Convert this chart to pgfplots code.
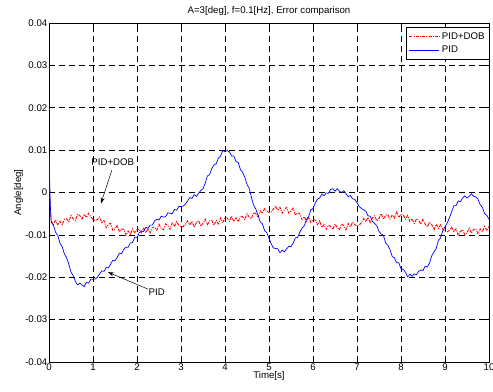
\documentclass[border=0pt]{standalone}
\usepackage{fontspec}
\setmainfont{Liberation Sans}
\usepackage{pgfplots}
\usepackage{pgfplotstable}
\usetikzlibrary{arrows.meta}
\pgfplotsset{compat=1.18}

\pgfplotstableread{
t y
0 84e-4
0.02 -20e-4
0.05 -67e-4
0.10 -76e-4
0.15 -64e-4
0.20 -77e-4
0.25 -68e-4
0.30 -76e-4
0.35 -63e-4
0.40 -62e-4
0.45 -69e-4
0.50 -54e-4
0.55 -62e-4
0.60 -66e-4
0.65 -51e-4
0.70 -54e-4
0.75 -64e-4
0.80 -51e-4
0.85 -59e-4
0.90 -49e-4
0.95 -58e-4
1.00 -63e-4
1.05 -66e-4
1.10 -64e-4
1.15 -58e-4
1.20 -71e-4
1.25 -66e-4
1.30 -83e-4
1.35 -75e-4
1.40 -73e-4
1.45 -89e-4
1.50 -86e-4
1.55 -78e-4
1.60 -93e-4
1.65 -86e-4
1.70 -87e-4
1.75 -101e-4
1.80 -91e-4
1.85 -99e-4
1.90 -86e-4
1.95 -96e-4
2.00 -87e-4
2.05 -87e-4
2.10 -95e-4
2.15 -83e-4
2.20 -95e-4
2.25 -86e-4
2.30 -95e-4
2.35 -82e-4
2.40 -82e-4
2.45 -89e-4
2.50 -75e-4
2.55 -84e-4
2.60 -88e-4
2.65 -74e-4
2.70 -78e-4
2.75 -87e-4
2.80 -72e-4
2.85 -80e-4
2.90 -69e-4
2.95 -77e-4
3.00 -81e-4
3.05 -80e-4
3.10 -75e-4
3.15 -67e-4
3.20 -76e-4
3.25 -68e-4
3.30 -82e-4
3.35 -71e-4
3.40 -66e-4
3.45 -79e-4
3.50 -73e-4
3.55 -63e-4
3.60 -76e-4
3.65 -67e-4
3.70 -66e-4
3.75 -77e-4
3.80 -66e-4
3.85 -74e-4
3.90 -60e-4
3.95 -70e-4
4.00 -60e-4
4.05 -60e-4
4.10 -68e-4
4.15 -56e-4
4.20 -69e-4
4.25 -60e-4
4.30 -69e-4
4.35 -56e-4
4.40 -57e-4
4.45 -64e-4
4.50 -50e-4
4.55 -58e-4
4.60 -62e-4
4.65 -47e-4
4.70 -50e-4
4.75 -59e-4
4.80 -43e-4
4.85 -49e-4
4.90 -38e-4
4.95 -44e-4
5.00 -47e-4
5.05 -46e-4
5.10 -39e-4
5.15 -32e-4
5.20 -42e-4
5.25 -35e-4
5.30 -49e-4
5.35 -40e-4
5.40 -35e-4
5.45 -49e-4
5.50 -44e-4
5.55 -37e-4
5.60 -53e-4
5.65 -48e-4
5.70 -50e-4
5.75 -64e-4
5.80 -57e-4
5.85 -68e-4
5.90 -58e-4
5.95 -71e-4
6.00 -64e-4
6.05 -65e-4
6.10 -76e-4
6.15 -67e-4
6.20 -82e-4
6.25 -76e-4
6.30 -87e-4
6.35 -77e-4
6.40 -80e-4
6.45 -87e-4
6.50 -74e-4
6.55 -83e-4
6.60 -88e-4
6.65 -74e-4
6.70 -78e-4
6.75 -88e-4
6.80 -73e-4
6.85 -81e-4
6.90 -70e-4
6.95 -76e-4
7.00 -79e-4
7.05 -77e-4
7.10 -71e-4
7.15 -61e-4
7.20 -69e-4
7.25 -59e-4
7.30 -71e-4
7.35 -60e-4
7.40 -55e-4
7.45 -67e-4
7.50 -61e-4
7.55 -50e-4
7.60 -63e-4
7.65 -54e-4
7.70 -52e-4
7.75 -63e-4
7.80 -53e-4
7.85 -60e-4
7.90 -46e-4
7.95 -59e-4
8.00 -51e-4
8.05 -53e-4
8.10 -63e-4
8.15 -54e-4
8.20 -68e-4
8.25 -62e-4
8.30 -73e-4
8.35 -63e-4
8.40 -65e-4
8.45 -75e-4
8.50 -63e-4
8.55 -75e-4
8.60 -81e-4
8.65 -70e-4
8.70 -76e-4
8.75 -88e-4
8.80 -75e-4
8.85 -85e-4
8.90 -76e-4
8.95 -86e-4
9.00 -92e-4
9.05 -93e-4
9.10 -89e-4
9.15 -82e-4
9.20 -93e-4
9.25 -86e-4
9.30 -101e-4
9.35 -92e-4
9.40 -88e-4
9.45 -100e-4
9.50 -95e-4
9.55 -84e-4
9.60 -96e-4
9.65 -87e-4
9.70 -86e-4
9.75 -97e-4
9.80 -86e-4
9.85 -93e-4
9.90 -80e-4
9.95 -90e-4
10.00 -80e-4
}\dobdata

\pgfplotstableread{
t y
0 85e-4
0.03 -30e-4
0.05 -70e-4
0.10 -77e-4
0.15 -94e-4
0.20 -101e-4
0.25 -120e-4
0.30 -128e-4
0.35 -145e-4
0.40 -154e-4
0.45 -169e-4
0.50 -188e-4
0.55 -196e-4
0.60 -210e-4
0.65 -218e-4
0.70 -214e-4
0.75 -218e-4
0.80 -222e-4
0.85 -212e-4
0.90 -214e-4
0.95 -205e-4
1.00 -205e-4
1.05 -204e-4
1.10 -200e-4
1.15 -192e-4
1.20 -185e-4
1.25 -186e-4
1.30 -177e-4
1.35 -178e-4
1.40 -169e-4
1.45 -160e-4
1.50 -161e-4
1.55 -153e-4
1.60 -143e-4
1.65 -144e-4
1.70 -134e-4
1.75 -129e-4
1.80 -129e-4
1.85 -119e-4
1.90 -118e-4
1.95 -105e-4
2.00 -106e-4
2.05 -95e-4
2.10 -91e-4
2.15 -92e-4
2.20 -82e-4
2.25 -85e-4
2.30 -77e-4
2.35 -77e-4
2.40 -67e-4
2.45 -63e-4
2.50 -65e-4
2.55 -56e-4
2.60 -58e-4
2.65 -57e-4
2.70 -48e-4
2.75 -49e-4
2.80 -50e-4
2.85 -40e-4
2.90 -42e-4
2.95 -33e-4
3.00 -33e-4
3.05 -32e-4
3.10 -27e-4
3.15 -20e-4
3.20 -12e-4
3.25 -14e-4
3.30 -5e-4
3.35 -9e-4
3.40 -2e-4
3.45 5e-4
3.50 9e-4
3.55 22e-4
3.60 39e-4
3.65 42e-4
3.70 57e-4
3.75 65e-4
3.80 68e-4
3.85 81e-4
3.90 86e-4
3.95 99e-4
4.00 96e-4
4.05 99e-4
4.10 96e-4
4.15 86e-4
4.20 86e-4
4.25 73e-4
4.30 71e-4
4.35 54e-4
4.40 48e-4
4.45 36e-4
4.50 19e-4
4.55 10e-4
4.60 -11e-4
4.65 -30e-4
4.70 -39e-4
4.75 -54e-4
4.80 -69e-4
4.85 -74e-4
4.90 -90e-4
4.95 -95e-4
5.00 -108e-4
5.05 -121e-4
5.10 -131e-4
5.15 -132e-4
5.20 -133e-4
5.25 -142e-4
5.30 -136e-4
5.35 -140e-4
5.40 -133e-4
5.45 -127e-4
5.50 -128e-4
5.55 -119e-4
5.60 -107e-4
5.65 -106e-4
5.70 -94e-4
5.75 -84e-4
5.80 -79e-4
5.85 -64e-4
5.90 -57e-4
5.95 -41e-4
6.00 -38e-4
6.05 -25e-4
6.10 -16e-4
6.15 -13e-4
6.20 -4e-4
6.25 -8e-4
6.30 -1e-4
6.35 -2e-4
6.40 7e-4
6.45 9e-4
6.50 3e-4
6.55 9e-4
6.60 3e-4
6.65 0
6.70 4e-4
6.75 -3e-4
6.80 -10e-4
6.85 -7e-4
6.90 -15e-4
6.95 -16e-4
7.00 -24e-4
7.05 -33e-4
7.10 -38e-4
7.15 -41e-4
7.20 -44e-4
7.25 -55e-4
7.30 -56e-4
7.35 -68e-4
7.40 -73e-4
7.45 -78e-4
7.50 -92e-4
7.55 -98e-4
7.60 -101e-4
7.65 -119e-4
7.70 -124e-4
7.75 -135e-4
7.80 -151e-4
7.85 -154e-4
7.90 -166e-4
7.95 -166e-4
8.00 -180e-4
8.05 -181e-4
8.10 -188e-4
8.15 -199e-4
8.20 -193e-4
8.25 -198e-4
8.30 -192e-4
8.35 -194e-4
8.40 -186e-4
8.45 -183e-4
8.50 -184e-4
8.55 -174e-4
8.60 -176e-4
8.65 -166e-4
8.70 -149e-4
8.75 -140e-4
8.80 -132e-4
8.85 -113e-4
8.90 -107e-4
8.95 -90e-4
9.00 -81e-4
9.05 -72e-4
9.10 -60e-4
9.15 -46e-4
9.20 -31e-4
9.25 -31e-4
9.30 -20e-4
9.35 -22e-4
9.40 -13e-4
9.45 -8e-4
9.50 -13e-4
9.55 -9e-4
9.60 -3e-4
9.65 -9e-4
9.70 -10e-4
9.75 -16e-4
9.80 -29e-4
9.85 -35e-4
9.90 -50e-4
9.95 -54e-4
10.00 -63e-4
}\piddata

\begin{document}
\begin{tikzpicture}
\begin{axis}[
  scale only axis,
  width=440bp, height=339bp,
  xmin=0, xmax=10, ymin=-0.04, ymax=0.04,
  xtick={0,1,...,10},
  ytick={-0.04,-0.03,-0.02,-0.01,0,0.01,0.02,0.03,0.04},
  yticklabels={-0.04,-0.03,-0.02,-0.01,0,0.01,0.02,0.03,0.04},
  scaled y ticks=false,
  /pgf/number format/assume math mode=true,
  tick align=inside,
  major tick length=4bp,
  tick style={black, line width=0.5pt},
  axis line style={black, line width=0.8pt},
  grid=major,
  major grid style={black, line width=0.6pt, dash pattern=on 6bp off 4bp},
  font=\fontsize{9.7}{11}\selectfont,
  tick label style={font=\fontsize{9.7}{11}\selectfont, inner sep=1.5bp},
  title={A=3[deg], f=0.1[Hz], Error comparison},
  title style={font=\fontsize{9.7}{11}\selectfont, yshift=-2bp},
  xlabel={Time[s]},
  ylabel={Angle[deg]},
  xlabel style={font=\fontsize{9.7}{11}\selectfont, yshift=4bp},
  ylabel style={font=\fontsize{9.7}{11}\selectfont, yshift=-3bp},
  legend style={at={(rel axis cs:1.002,0.988)}, anchor=north east,
    draw=black, line width=0.6pt, font=\fontsize{9.7}{11}\selectfont,
    inner xsep=3bp, inner ysep=3bp, row sep=1.5bp, cells={anchor=west}},
  legend image code/.code={\draw[#1] (0bp,0bp) -- (30bp,0bp);},
]
\addplot[red, line width=0.9pt, dash pattern=on 3bp off 1.2bp on 1bp off 1.2bp] table[x=t,y=y] {\dobdata};
\addlegendentry{PID+DOB}
\addplot[blue, line width=0.7pt] table[x=t,y=y] {\piddata};
\addlegendentry{PID}
\node[font=\fontsize{9.7}{11}\selectfont] at (axis cs:1.45,0.0072) {PID+DOB};
\draw[-{Stealth[length=6bp,width=4bp]}, line width=0.5pt] (axis cs:1.43,0.0053) -- (axis cs:1.18,-0.0026);
\node[font=\fontsize{9.7}{11}\selectfont] at (axis cs:2.45,-0.0235) {PID};
\draw[-{Stealth[length=6bp,width=4bp]}, line width=0.5pt] (axis cs:2.25,-0.0228) -- (axis cs:1.34,-0.0188);
\end{axis}
\pgfresetboundingbox
\path[use as bounding box] ([shift={(-49bp,-30bp)}]current axis.south west) rectangle ([shift={(4bp,23bp)}]current axis.north east);
\end{tikzpicture}
\end{document}
